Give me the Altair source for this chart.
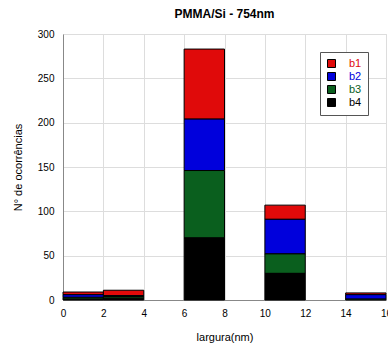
import altair as alt
import pandas as pd

# ---- data ----
bin_start = [0, 2, 4, 6, 8, 10, 12, 14]
bin_width = 2
series = ["b1", "b2", "b3", "b4"]
b1 = [3, 6, 0, 79, 0, 16, 0, 2]
b2 = [3, 1, 0, 58, 0, 39, 0, 5]
b3 = [2, 2, 0, 76, 0, 22, 0, 1]
b4 = [1, 2, 0, 70, 0, 30, 0, 0]
colors = ["#e00a0a", "#0000dc", "#0a5f1e", "#000000"]
x_ticks = [0, 2, 4, 6, 8, 10, 12, 14, 16]
y_ticks = [0, 50, 100, 150, 200, 250, 300]

rows = []
for rank, (name, vals) in enumerate(zip(series, [b1, b2, b3, b4])):
    for s, v in zip(bin_start, vals):
        if v > 0:
            rows.append({"start": s, "end": s + bin_width, "series": name,
                         "rank": rank, "count": v})
df = pd.DataFrame(rows)

label_color_expr = " : ".join(
    f"datum.value == '{s}' ? '{c}'" for s, c in zip(series, colors)
) + " : 'black'"

FONT = "Liberation Sans"

chart = alt.Chart(df).transform_stack(
    stack="count",
    groupby=["start"],
    as_=["y0", "y1"],
    sort=[alt.SortField("rank", order="descending")],
).mark_bar(stroke="black", strokeWidth=1).encode(
    x=alt.X(
        "start:Q",
        scale=alt.Scale(domain=[0, 16], nice=False, zero=False),
        axis=alt.Axis(
            values=x_ticks, title="largura(nm)", grid=True, ticks=False,
            labelPadding=8, titlePadding=13, labelFlush=False,
            titleFontWeight="normal",
        ),
    ),
    x2="end:Q",
    y=alt.Y(
        "y0:Q",
        scale=alt.Scale(domain=[0, 300], nice=False),
        axis=alt.Axis(
            values=y_ticks, title="N° de ocorrências", grid=True, ticks=False,
            labelPadding=9, titlePadding=14, titleFontWeight="normal",
        ),
    ),
    y2="y1:Q",
    color=alt.Color(
        "series:N",
        scale=alt.Scale(domain=series, range=colors),
        legend=alt.Legend(
            title=None,
            orient="none",
            legendX=257,
            legendY=18,
            padding=6,
            rowPadding=0,
            fillColor="white",
            strokeColor="#555",
            symbolType="square",
            symbolSize=64,
            symbolStrokeColor="black",
            symbolStrokeWidth=1,
            symbolOpacity=1,
            labelFont=FONT,
            labelFontSize=11,
            labelOffset=12,
            labelLimit=40,
            labelColor=alt.ExprRef(label_color_expr),
        ),
    ),
).properties(
    width=323,
    height=266,
    title=alt.Title("PMMA/Si - 754nm", fontSize=12, font=FONT, fontWeight="bold",
                    anchor="middle", offset=8, color="black"),
    padding={"left": 63, "top": 34, "right": 2, "bottom": 45},
    autosize="none",
).configure_view(
    stroke="#444", strokeWidth=1,
).configure_axis(
    labelFont=FONT, labelFontSize=11, labelColor="#333",
    titleFont=FONT, titleFontSize=12, titleColor="#444", titleFontWeight="normal",
    gridColor="#444", gridDash=[1, 2], gridOpacity=1, gridWidth=1,
    domainColor="#444",
).configure(background="white")

chart.save("out.html", embed_options={"renderer": "svg", "actions": False})
